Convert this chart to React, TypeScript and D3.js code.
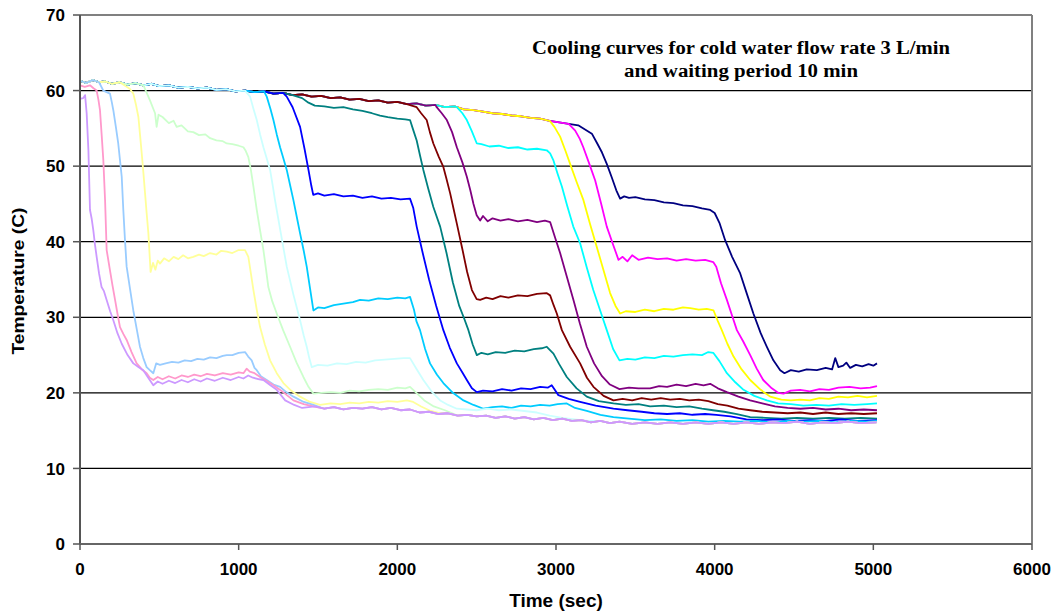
import React from "react";
import * as d3 from "d3";

// shared start of every curve (all probes sit together near 60 C before the flow reaches them)
const topTrack: [number, number][] = [[0,61.3],[40,61.0],[80,61.4],[120,61.1],[160,61.2],[200,60.9],[250,61.1],[300,60.8],[350,61.0],[400,60.7],[450,60.9],[500,60.6],[560,60.7],[620,60.4],[680,60.5],[740,60.3],[800,60.4],[860,60.1],[920,60.2],[980,59.9],[1040,60.0],[1100,59.8],[1160,59.9],[1220,59.6],[1280,59.7],[1340,59.4],[1400,59.5],[1460,59.2],[1520,59.3],[1580,59.0],[1640,59.1],[1700,58.8],[1760,58.9],[1820,58.6],[1880,58.7],[1940,58.4],[2000,58.5],[2060,58.2],[2120,58.3],[2180,58.0],[2240,58.1],[2300,57.8],[2360,57.9],[2420,57.5],[2480,57.4],[2540,57.2],[2600,57.0],[2660,56.9],[2720,56.7],[2780,56.6],[2840,56.4],[2900,56.3],[2960,56.0],[3020,55.8],[3080,55.6],[3140,55.4],[3200,55.0]];

// shared cold floor that the early curves settle on
const floorTrack: [number, number][] = [[1480,18.2],[1540,17.9],[1600,18.1],[1660,17.8],[1720,18.0],[1780,17.9],[1840,18.1],[1900,17.8],[1960,18.0],[2020,17.7],[2080,17.8],[2140,17.4],[2200,17.5],[2260,17.2],[2320,17.3],[2380,17.0],[2440,17.1],[2500,16.9],[2560,17.0],[2620,16.7],[2680,16.9],[2740,16.6],[2800,16.8],[2860,16.5],[2920,16.7],[2980,16.4],[3040,16.6],[3100,16.3],[3160,16.4],[3220,16.1],[3280,16.3],[3340,16.0],[3400,16.2],[3480,15.9],[3560,16.1],[3640,15.9],[3720,16.1],[3800,15.9],[3880,16.1],[3960,15.9],[4040,16.1],[4120,15.9],[4200,16.1],[4280,15.9],[4360,16.1],[4440,16.0],[4520,16.2],[4600,15.9],[4680,16.1],[4760,16.0],[4840,16.2],[4920,16.0],[5020,16.1]];

const navy: [number, number][] = [[3226,54.3],[3260,53.0],[3290,51.8],[3320,50.3],[3350,48.6],[3380,46.8],[3404,45.7],[3430,46.0],[3460,45.8],[3500,45.9],[3560,45.6],[3620,45.5],[3680,45.2],[3740,45.1],[3800,44.8],[3860,44.7],[3920,44.4],[3972,44.2],[4000,43.8],[4030,42.5],[4066,40.2],[4110,38.0],[4161,35.8],[4200,33.3],[4244,30.5],[4290,27.9],[4329,26.1],[4370,24.3],[4413,23.0],[4440,22.6],[4480,23.0],[4530,22.8],[4580,23.1],[4644,23.0],[4700,23.3],[4740,23.1],[4760,24.6],[4780,23.4],[4810,23.6],[4830,24.0],[4854,23.3],[4890,23.7],[4930,23.5],[4970,23.8],[5000,23.6],[5023,23.9]];
const magenta: [number, number][] = [[3121,54.7],[3150,53.6],[3172,52.5],[3210,50.3],[3247,48.1],[3285,45.0],[3320,42.0],[3360,39.6],[3394,37.6],[3420,38.0],[3450,37.4],[3480,38.2],[3520,37.6],[3580,37.9],[3640,37.7],[3700,37.8],[3760,37.5],[3820,37.7],[3880,37.5],[3940,37.6],[3991,37.3],[4010,36.7],[4040,34.5],[4077,32.3],[4110,30.2],[4140,28.3],[4180,26.8],[4224,25.0],[4265,23.2],[4306,21.7],[4360,20.6],[4400,20.0],[4434,19.9],[4480,20.3],[4539,20.4],[4600,20.2],[4660,20.5],[4720,20.4],[4780,20.7],[4850,20.8],[4920,20.6],[4980,20.7],[5023,20.9]];
const yellow: [number, number][] = [[2990,55.2],[3026,53.9],[3060,52.0],[3089,50.3],[3130,47.9],[3173,45.5],[3215,42.3],[3257,39.3],[3300,36.2],[3341,33.2],[3375,31.5],[3404,30.5],[3440,30.8],[3500,30.7],[3560,31.0],[3620,30.8],[3680,31.1],[3740,31.0],[3800,31.3],[3846,31.2],[3900,31.0],[3950,31.1],[3993,30.9],[4020,29.5],[4045,28.3],[4080,26.5],[4119,24.8],[4170,23.1],[4224,21.7],[4290,20.4],[4350,19.5],[4420,19.1],[4480,19.0],[4540,19.1],[4600,19.0],[4660,19.3],[4720,19.2],[4780,19.5],[4840,19.4],[4900,19.6],[4960,19.4],[5023,19.6]];
const cyan: [number, number][] = [[2375,57.8],[2410,57.0],[2438,56.1],[2470,54.6],[2501,53.0],[2530,52.9],[2580,52.6],[2640,52.7],[2700,52.4],[2760,52.5],[2820,52.2],[2880,52.3],[2942,52.1],[2963,51.7],[2983,50.8],[3010,49.0],[3037,47.3],[3070,44.8],[3109,42.0],[3152,39.8],[3194,36.6],[3235,33.6],[3280,30.8],[3320,28.3],[3360,25.8],[3400,24.3],[3450,24.5],[3500,24.4],[3560,24.7],[3620,24.6],[3680,24.9],[3740,24.8],[3800,25.0],[3860,25.1],[3920,25.0],[3960,25.4],[3991,25.3],[4030,24.2],[4077,22.6],[4130,21.4],[4182,20.4],[4250,19.6],[4329,19.0],[4400,18.6],[4480,18.5],[4560,18.3],[4640,18.4],[4720,18.3],[4800,18.5],[4880,18.4],[4960,18.5],[5023,18.6]];
const purple: [number, number][] = [[2248,57.8],[2280,57.0],[2312,56.1],[2345,54.5],[2375,52.5],[2410,50.5],[2438,48.6],[2460,46.8],[2480,45.0],[2500,43.5],[2522,42.8],[2540,43.4],[2570,42.7],[2600,43.1],[2650,42.8],[2700,43.0],[2760,42.7],[2820,42.9],[2880,42.6],[2930,42.8],[2963,42.6],[2995,40.5],[3026,38.5],[3068,35.4],[3110,32.3],[3150,29.2],[3194,26.1],[3240,23.9],[3290,22.2],[3340,21.1],[3400,20.5],[3460,20.7],[3520,20.6],[3593,20.6],[3650,20.9],[3700,20.8],[3760,21.1],[3820,20.9],[3880,21.2],[3930,21.0],[3972,21.2],[4020,20.6],[4077,20.1],[4150,19.5],[4224,19.0],[4300,18.6],[4380,18.2],[4460,18.0],[4540,17.9],[4620,18.0],[4700,17.8],[4780,17.9],[4860,17.7],[4940,17.8],[5023,17.7]];
const darkRed: [number, number][] = [[2122,57.8],[2150,57.0],[2185,56.1],[2205,54.5],[2227,53.0],[2260,51.3],[2290,49.9],[2310,48.3],[2333,46.4],[2355,44.3],[2375,42.4],[2410,39.0],[2440,36.0],[2470,33.6],[2500,32.4],[2522,32.3],[2560,32.6],[2600,32.4],[2650,32.8],[2700,32.6],[2760,32.9],[2820,32.8],[2880,33.1],[2940,33.2],[2963,32.9],[2985,31.6],[3005,30.5],[3037,28.3],[3089,26.1],[3152,23.9],[3195,22.0],[3236,20.8],[3300,19.6],[3362,19.0],[3420,19.2],[3480,19.0],[3540,19.3],[3600,19.1],[3660,19.3],[3720,19.1],[3780,19.2],[3840,19.0],[3900,19.1],[3960,18.9],[4020,18.5],[4080,18.3],[4150,17.9],[4224,17.7],[4300,17.5],[4380,17.4],[4460,17.3],[4540,17.4],[4620,17.2],[4700,17.4],[4780,17.2],[4860,17.3],[4940,17.2],[5023,17.3]];
const teal: [number, number][] = [[1400,59.0],[1440,58.4],[1480,58.0],[1540,57.9],[1600,57.7],[1660,57.8],[1720,57.5],[1780,57.3],[1840,57.0],[1891,56.7],[1940,56.5],[2000,56.3],[2050,56.2],[2080,56.1],[2100,54.8],[2122,53.4],[2143,51.4],[2164,49.5],[2195,47.0],[2227,44.6],[2270,42.0],[2310,38.5],[2350,34.6],[2390,31.5],[2420,29.9],[2448,28.3],[2475,26.4],[2501,25.0],[2530,25.3],[2570,25.1],[2620,25.4],[2680,25.3],[2740,25.6],[2800,25.5],[2860,25.8],[2910,25.9],[2942,26.1],[2984,25.2],[3020,23.8],[3068,22.1],[3130,20.6],[3194,19.5],[3270,18.9],[3362,18.6],[3440,18.4],[3520,18.5],[3593,18.2],[3680,18.3],[3760,18.1],[3840,18.2],[3920,17.9],[3990,17.7],[4060,17.5],[4140,17.2],[4224,16.8],[4320,16.7],[4420,16.6],[4520,16.7],[4620,16.6],[4720,16.7],[4820,16.6],[4920,16.7],[5023,16.6]];
const blue: [number, number][] = [[1303,59.2],[1340,57.8],[1387,55.2],[1415,52.3],[1440,49.5],[1458,47.4],[1470,46.2],[1500,46.4],[1540,46.1],[1600,46.3],[1660,46.0],[1720,46.1],[1780,45.8],[1840,46.0],[1900,45.7],[1960,45.8],[2020,45.6],[2080,45.7],[2100,44.5],[2122,42.0],[2160,38.5],[2200,35.0],[2245,31.5],[2290,28.3],[2330,26.0],[2375,23.9],[2410,22.7],[2438,21.7],[2470,20.6],[2501,20.1],[2540,20.3],[2600,20.2],[2660,20.5],[2720,20.3],[2780,20.6],[2840,20.5],[2900,20.8],[2950,20.7],[2973,21.0],[3015,19.7],[3080,19.2],[3152,18.8],[3250,18.3],[3362,17.9],[3450,17.7],[3540,17.5],[3620,17.3],[3700,17.2],[3780,17.3],[3860,17.1],[3940,17.2],[4010,17.1],[4100,16.9],[4200,16.5],[4300,16.4],[4400,16.5],[4500,16.3],[4600,16.4],[4700,16.3],[4800,16.5],[4900,16.3],[5023,16.4]];
const skyBlue: [number, number][] = [[1177,59.2],[1200,57.6],[1219,56.1],[1240,54.2],[1261,52.5],[1282,51.0],[1303,49.5],[1325,47.4],[1345,45.5],[1367,43.2],[1387,41.1],[1410,38.8],[1429,36.7],[1450,33.8],[1471,30.9],[1500,31.3],[1540,31.2],[1600,31.6],[1660,31.8],[1720,32.0],[1765,32.3],[1820,32.2],[1880,32.5],[1940,32.4],[2000,32.6],[2050,32.5],[2080,32.7],[2105,31.0],[2120,29.5],[2143,28.3],[2175,25.8],[2206,23.9],[2250,22.4],[2290,21.3],[2350,20.0],[2417,19.0],[2480,18.4],[2543,17.9],[2600,18.1],[2660,18.2],[2720,18.0],[2780,18.3],[2840,18.2],[2900,18.4],[2960,18.3],[3010,18.5],[3068,18.6],[3120,18.0],[3194,17.6],[3280,17.1],[3362,16.8],[3460,16.6],[3560,16.4],[3660,16.5],[3760,16.3],[3860,16.4],[3960,16.2],[4060,16.3],[4160,16.2],[4260,16.3],[4360,16.1],[4460,16.3],[4560,16.2],[4660,16.3],[4760,16.1],[4860,16.3],[4960,16.2],[5023,16.3]];
const lightCyan: [number, number][] = [[1072,59.2],[1093,57.6],[1114,56.1],[1135,54.2],[1156,52.5],[1177,51.0],[1198,49.5],[1215,47.4],[1229,45.5],[1265,41.2],[1303,36.7],[1345,33.0],[1387,29.6],[1410,27.6],[1429,26.1],[1445,24.6],[1461,23.4],[1500,23.7],[1560,23.6],[1620,23.9],[1680,23.8],[1740,24.1],[1800,24.0],[1860,24.3],[1920,24.4],[1980,24.5],[2040,24.6],[2080,24.6],[2120,23.2],[2164,21.7],[2215,20.2],[2270,19.0],[2320,18.4],[2375,17.9],[2440,17.8],[2500,17.7],[2570,17.9],[2640,17.7],[2720,17.8],[2800,17.6],[2880,17.4],[2960,17.0],[3040,16.7],[3120,16.5],[3200,16.3]];
const lightGreen: [number, number][] = [[441,58.7],[473,57.0],[483,55.2],[495,56.8],[520,56.5],[560,55.7],[590,56.0],[609,55.2],[640,55.4],[680,54.6],[714,54.5],[750,54.1],[790,54.2],[820,53.7],[860,53.4],[900,53.3],[925,53.0],[960,52.9],[1000,52.7],[1030,52.5],[1045,52.0],[1061,51.2],[1077,49.5],[1093,47.3],[1114,44.2],[1135,41.5],[1156,38.9],[1172,36.4],[1187,34.0],[1212,32.1],[1240,30.5],[1280,28.3],[1324,26.1],[1365,24.0],[1408,22.1],[1440,20.8],[1471,19.9],[1520,20.0],[1580,20.1],[1640,20.0],[1700,20.3],[1760,20.2],[1820,20.4],[1880,20.5],[1940,20.4],[2000,20.7],[2050,20.6],[2080,20.8],[2120,20.0],[2170,19.0],[2230,18.2],[2300,17.7]];
const lightYellow: [number, number][] = [[294,60.5],[315,60.2],[336,59.6],[352,58.2],[368,56.5],[379,54.0],[389,51.7],[400,49.0],[410,46.4],[420,43.8],[431,41.1],[438,38.5],[445,36.0],[460,37.2],[475,36.3],[490,37.5],[504,37.1],[530,37.8],[560,37.4],[590,38.0],[620,37.7],[650,38.2],[680,37.8],[714,38.0],[750,38.3],[780,38.1],[820,38.5],[860,38.3],[890,38.8],[925,38.7],[960,38.5],[1000,38.9],[1040,38.9],[1061,38.0],[1077,35.8],[1093,33.6],[1114,31.0],[1135,28.7],[1165,26.4],[1198,24.3],[1240,22.6],[1282,21.3],[1330,20.3],[1387,19.5],[1450,18.8],[1513,18.4],[1580,18.6],[1640,18.5],[1700,18.7],[1760,18.6],[1820,18.8],[1880,18.7],[1940,18.9],[2000,18.8],[2060,19.0],[2100,18.8],[2150,18.2],[2210,17.6],[2270,17.3]];
const paleBlue: [number, number][] = [[147,60.0],[189,59.6],[200,58.5],[210,57.4],[226,55.2],[241,53.0],[252,50.8],[263,48.6],[273,44.2],[283,40.4],[294,36.7],[315,33.8],[336,30.9],[357,28.5],[378,26.1],[399,24.6],[420,23.4],[440,23.0],[462,22.6],[480,23.9],[504,23.7],[540,23.9],[580,24.1],[620,24.0],[660,24.3],[700,24.2],[740,24.5],[780,24.4],[820,24.7],[860,24.6],[900,24.9],[925,25.0],[960,25.0],[1000,25.3],[1040,25.4],[1060,24.8],[1082,24.3],[1100,23.3],[1114,23.0],[1140,22.2],[1177,21.7],[1220,21.1],[1261,20.8],[1300,20.1],[1345,19.5],[1410,18.8],[1471,18.4]];
const rose: [number, number][] = [[0,60.7],[30,60.5],[63,60.7],[85,60.3],[105,60.0],[116,58.8],[126,57.4],[137,54.0],[147,50.8],[158,45.5],[168,38.9],[189,36.2],[205,34.2],[221,32.3],[236,30.5],[252,28.7],[273,27.8],[294,27.0],[325,25.4],[357,23.9],[390,23.1],[420,22.6],[440,22.0],[462,21.7],[490,22.1],[520,21.8],[560,22.2],[600,21.9],[640,22.3],[680,22.1],[720,22.4],[760,22.2],[800,22.5],[850,22.3],[900,22.6],[950,22.4],[1000,22.7],[1030,22.6],[1050,23.2],[1070,22.8],[1100,22.6],[1135,22.1],[1175,21.6],[1219,21.0],[1280,20.1],[1345,19.0],[1410,18.5],[1470,18.2]];
const lavender: [number, number][] = [[0,58.9],[20,59.0],[32,59.4],[42,57.0],[53,52.1],[63,44.2],[74,43.0],[84,41.5],[95,39.5],[105,38.0],[120,35.8],[136,34.0],[150,33.5],[168,32.3],[190,30.8],[210,29.6],[236,27.9],[263,26.5],[300,25.0],[336,23.9],[370,23.4],[399,23.0],[430,22.0],[462,21.0],[490,21.5],[520,21.2],[560,21.6],[600,21.3],[640,21.7],[680,21.4],[720,21.8],[760,21.5],[800,21.9],[850,21.6],[900,22.0],[950,21.7],[1000,22.1],[1030,21.9],[1060,22.3],[1090,22.0],[1130,21.8],[1156,21.7],[1200,21.0],[1240,20.4],[1293,19.0],[1350,18.4],[1400,18.0]];

// [color, own points, top track kept before this time, floor track joined after this time]
const seriesDefs: [string, [number, number][], number, number][] = [
  ["#000080", navy, 3200, 99999],
  ["#FF00FF", magenta, 3100, 99999],
  ["#FFFF00", yellow, 2970, 99999],
  ["#00FFFF", cyan, 2370, 99999],
  ["#800080", purple, 2245, 99999],
  ["#800000", darkRed, 2110, 99999],
  ["#008080", teal, 1360, 99999],
  ["#0000FF", blue, 1290, 99999],
  ["#00CCFF", skyBlue, 1170, 99999],
  ["#CCFFFF", lightCyan, 1060, 3250],
  ["#CCFFCC", lightGreen, 420, 2350],
  ["#FFFF99", lightYellow, 290, 2300],
  ["#99CCFF", paleBlue, 140, 1500],
  ["#FF99CC", rose, -1, 1500],
  ["#CC99FF", lavender, -1, 1450],
];

const xTicks = [0, 1000, 2000, 3000, 4000, 5000, 6000];
const yTicks = [0, 10, 20, 30, 40, 50, 60, 70];

const W = 1060, H = 615;
const left = 80, right = 1032, top = 15, bottom = 544;

export default function App() {
  const x = d3.scaleLinear().domain([0, 6000]).range([left, right]);
  const y = d3.scaleLinear().domain([0, 70]).range([bottom, top]);
  const line = d3.line<[number, number]>().x(d => x(d[0])).y(d => y(d[1]));

  const series = seriesDefs.map(([color, pts, cut, join]) => {
    const data = [
      ...topTrack.filter(d => d[0] < cut),
      ...pts,
      ...floorTrack.filter(d => d[0] > join),
    ];
    return { color, data };
  });

  const fontAx = "'Liberation Sans', Arial, sans-serif";

  return (
    <svg width={W} height={H} style={{ position: "absolute", left: 0, top: 0, background: "#fff" }}>
      {/* gridlines */}
      {yTicks.filter(t => t > 0 && t < 70).map(t => (
        <line key={t} x1={left} x2={right} y1={y(t)} y2={y(t)} stroke="#000" strokeWidth={1.3} />
      ))}
      {/* plot border top/right */}
      <line x1={left} x2={right} y1={y(70)} y2={y(70)} stroke="#808080" strokeWidth={2} />
      <line x1={right} x2={right} y1={y(70)} y2={y(0)} stroke="#808080" strokeWidth={2} />

      {series.map((s, i) => (
        <path key={i} d={line(s.data) || ""} fill="none" stroke={s.color} strokeWidth={1.8} strokeLinejoin="round" />
      ))}

      {/* axes */}
      <line x1={left} x2={left} y1={y(70)} y2={y(0)} stroke="#555" strokeWidth={2} />
      <line x1={left} x2={right} y1={y(0)} y2={y(0)} stroke="#666" strokeWidth={2} />
      {yTicks.map(t => (
        <g key={t}>
          <line x1={left - 7} x2={left} y1={y(t)} y2={y(t)} stroke="#555" strokeWidth={1.5} />
          <text x={65} y={y(t)} dy="0.36em" textAnchor="end" fontFamily={fontAx} fontWeight="bold" fontSize={17}>{t}</text>
        </g>
      ))}
      {xTicks.map(t => (
        <g key={t}>
          <line x1={x(t)} x2={x(t)} y1={y(0)} y2={y(0) + 6} stroke="#555" strokeWidth={1.5} />
          <text x={x(t)} y={575} textAnchor="middle" fontFamily={fontAx} fontWeight="bold" fontSize={17}>{t}</text>
        </g>
      ))}

      <text x={556} y={607} textAnchor="middle" fontFamily={fontAx} fontWeight="bold" fontSize={19}>Time (sec)</text>
      <text transform="translate(24,281) rotate(-90)" textAnchor="middle" fontFamily={fontAx} fontWeight="bold" fontSize={17} textLength={147} lengthAdjust="spacingAndGlyphs">Temperature (C)</text>

      <text x={741} y={54} textAnchor="middle" fontFamily="'Liberation Serif', 'DejaVu Serif', serif" fontWeight="bold" fontSize={18} textLength={418} lengthAdjust="spacingAndGlyphs">Cooling curves for cold water flow rate 3 L/min</text>
      <text x={741} y={77} textAnchor="middle" fontFamily="'Liberation Serif', 'DejaVu Serif', serif" fontWeight="bold" fontSize={18} textLength={234} lengthAdjust="spacingAndGlyphs">and waiting period 10 min</text>
    </svg>
  );
}
